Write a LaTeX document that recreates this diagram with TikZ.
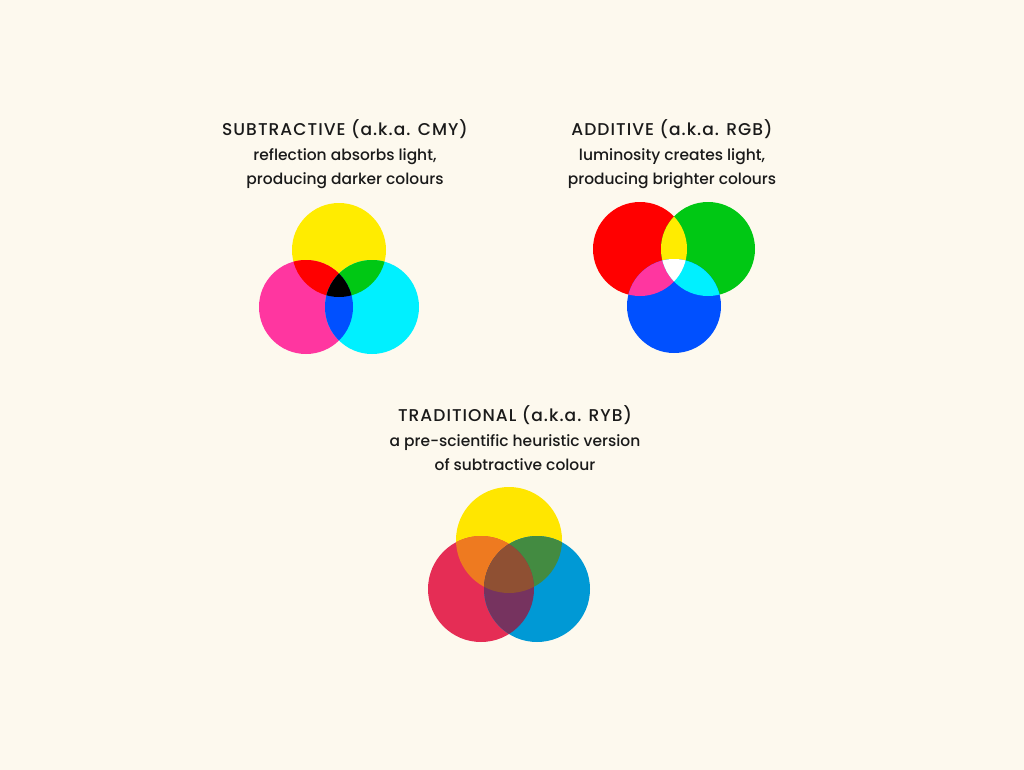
\documentclass[tikz,border=0pt]{standalone}
\usepackage{fontspec}
\setmainfont{Poppins Medium}
\newfontfamily\headfont[LetterSpace=6]{Poppins Medium}
\usetikzlibrary{positioning}

\definecolor{paper}{RGB}{253,249,238}
\definecolor{ink}{RGB}{26,26,26}
% subtractive / additive primaries
\definecolor{cYellow}{RGB}{255,236,0}
\definecolor{cMagenta}{RGB}{255,54,160}
\definecolor{cCyan}{RGB}{0,240,255}
\definecolor{cRed}{RGB}{255,0,0}
\definecolor{cGreen}{RGB}{0,200,20}
\definecolor{cBlue}{RGB}{0,80,255}
% traditional ryb
\definecolor{tYellow}{RGB}{255,230,0}
\definecolor{tRed}{RGB}{229,45,85}
\definecolor{tBlue}{RGB}{0,153,213}
\definecolor{tOrange}{RGB}{238,122,32}
\definecolor{tGreen}{RGB}{67,139,65}
\definecolor{tPurple}{RGB}{118,51,95}
\definecolor{tBrown}{RGB}{143,80,51}

\tikzset{every picture/.style={line width=0.75pt}}
\tikzset{
  headtext/.style={font=\headfont\fontsize{12.8}{18}\selectfont, text=ink, inner sep=0.75pt},
  subtext/.style={font=\fontsize{11.6}{18}\selectfont, text=ink, inner sep=0.75pt, align=center}
}

\begin{document}
\begin{tikzpicture}[x=0.75pt,y=0.75pt,yscale=-1,xscale=1]
%Shape: Rectangle (background)
\fill [paper] (0,0) rectangle (1024,770) ;
\useasboundingbox (0,0) rectangle (1024,770) ;

%Shape: Circle (subtractive)
\fill [cYellow] (339,250) circle (47) ;
\fill [cMagenta] (306,307) circle (47) ;
\fill [cCyan] (372,307) circle (47) ;
\begin{scope}
\clip (339,250) circle (47) ;
\fill [cRed] (306,307) circle (47) ;
\fill [cGreen] (372,307) circle (47) ;
\end{scope}
\begin{scope}
\clip (306,307) circle (47) ;
\fill [cBlue] (372,307) circle (47) ;
\clip (339,250) circle (47) ;
\fill [black] (372,307) circle (47) ;
\end{scope}

%Shape: Circle (additive)
\fill [cRed] (640,249) circle (47) ;
\fill [cGreen] (708,249) circle (47) ;
\fill [cBlue] (674,306) circle (47) ;
\begin{scope}
\clip (640,249) circle (47) ;
\fill [cYellow] (708,249) circle (47) ;
\fill [cMagenta] (674,306) circle (47) ;
\end{scope}
\begin{scope}
\clip (708,249) circle (47) ;
\fill [cCyan] (674,306) circle (47) ;
\clip (640,249) circle (47) ;
\fill [white] (674,306) circle (47) ;
\end{scope}

%Shape: Circle (traditional)
\fill [tYellow] (509,540) circle (53) ;
\fill [tRed] (481,589) circle (53) ;
\fill [tBlue] (537,589) circle (53) ;
\begin{scope}
\clip (509,540) circle (53) ;
\fill [tOrange] (481,589) circle (53) ;
\fill [tGreen] (537,589) circle (53) ;
\end{scope}
\begin{scope}
\clip (481,589) circle (53) ;
\fill [tPurple] (537,589) circle (53) ;
\clip (509,540) circle (53) ;
\fill [tBrown] (537,589) circle (53) ;
\end{scope}

% Text Node
\node [headtext] (subHead) at (345,129) {SUBTRACTIVE (a.k.a. CMY)};
% Text Node
\node [subtext, below=5pt of subHead] (subNote) {reflection absorbs light,\\producing darker colours};
% Text Node
\node [headtext] (addHead) at (672,129) {ADDITIVE (a.k.a. RGB)};
% Text Node
\node [subtext, below=5pt of addHead] (addNote) {luminosity creates light,\\producing brighter colours};
% Text Node
\node [headtext] (tradHead) at (515,415) {TRADITIONAL (a.k.a. RYB)};
% Text Node
\node [subtext, below=5pt of tradHead] (tradNote) {a pre-scientific heuristic version\\of subtractive colour};
\end{tikzpicture}
\end{document}
